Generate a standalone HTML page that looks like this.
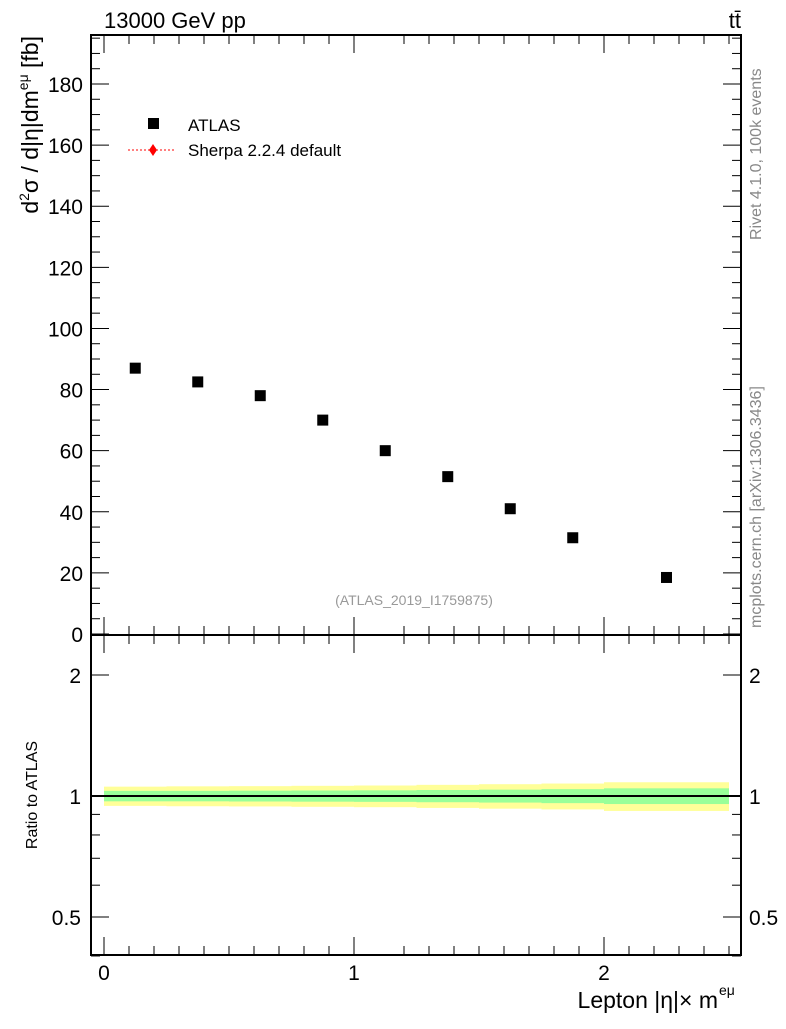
<!DOCTYPE html>
<html><head><meta charset="utf-8"><style>
body{margin:0;background:#fff;}
svg text{font-family:"Liberation Sans",sans-serif;}
</style></head><body>
<svg id="c" width="786" height="1024" xmlns="http://www.w3.org/2000/svg"></svg>
<script>
const binLo=[0,0.25,0.5,0.75,1.0,1.25,1.5,1.75,2.0];
const binHi=[0.25,0.5,0.75,1.0,1.25,1.5,1.75,2.0,2.5];
const atlasValues=[87,82.5,78,70,60,51.5,41,31.5,18.5];
const ratioValues=[1,1,1,1,1,1,1,1,1];
const yellowErr=[0.055,0.057,0.058,0.06,0.062,0.066,0.07,0.074,0.082];
const greenErr=[0.03,0.03,0.031,0.032,0.033,0.035,0.037,0.04,0.045];
const yTicks=[0,20,40,60,80,100,120,140,160,180];
const xTicks=[0,1,2];
const rTicks=[0.5,1,2];

const NS="http://www.w3.org/2000/svg";
const svg=document.getElementById('c');
function el(t,a,p){const e=document.createElementNS(NS,t);for(const k in a)e.setAttribute(k,a[k]);(p||svg).appendChild(e);return e;}
const L=91,R=741,T=35,M=635,B=955;
const X=v=>104+v*250;
const Y=v=>634-v*3.0556;
const RY=v=>796-Math.log10(v)*402;

binLo.forEach((lo,i)=>{
  const y=el('rect',{x:X(lo),y:RY(1+yellowErr[i]),width:X(binHi[i])-X(lo),height:RY(1-yellowErr[i])-RY(1+yellowErr[i]),fill:'#ffff99'});
  
  
  const g=el('rect',{x:X(lo),y:RY(1+greenErr[i]),width:X(binHi[i])-X(lo),height:RY(1-greenErr[i])-RY(1+greenErr[i]),fill:'#99ff99'});
  
  
});
const rl=el('line',{x1:L,x2:R,y1:RY(1),y2:RY(1),stroke:'#000','stroke-width':2});



const f1=el('rect',{x:L,y:T,width:R-L,height:M-T,fill:'none',stroke:'#000','stroke-width':2});


const f2=el('rect',{x:L,y:M,width:R-L,height:B-M,fill:'none',stroke:'#000','stroke-width':2});



for(let v=0;v<=195;v+=5){
  const big=v%20===0, len=big?18:9;
  el('line',{x1:L,x2:L+len,y1:Y(v),y2:Y(v),stroke:'#000','stroke-width':1});
  el('line',{x1:R,x2:R-len,y1:Y(v),y2:Y(v),stroke:'#000','stroke-width':1});
}
yTicks.forEach(v=>{
  const t=el('text',{x:L-8,y:Y(v)+8,'text-anchor':'end','font-size':21});t.textContent=v;
  
  
});
for(let v=-0.05;v<=2.55;v+=0.1){
  const vv=Math.round(v*10)/10; if(vv<-0.05) continue;
  const big=Math.abs(vv-Math.round(vv))<1e-6, len=big?18:9;
  [[T,1],[M,-1],[M,1],[B,-1]].forEach(([y0,d])=>el('line',{x1:X(vv),x2:X(vv),y1:y0,y2:y0+d*len,stroke:'#000','stroke-width':1}));
}
xTicks.forEach(v=>{
  const t=el('text',{x:X(v),y:980,'text-anchor':'middle','font-size':21});t.textContent=v;
  
  
});
[0.4,0.5,0.6,0.7,0.8,0.9,1,2].forEach(v=>{
  const big=rTicks.includes(v),len=big?18:9;
  el('line',{x1:L,x2:L+len,y1:RY(v),y2:RY(v),stroke:'#000'});
  el('line',{x1:R,x2:R-len,y1:RY(v),y2:RY(v),stroke:'#000'});
});
rTicks.forEach(v=>{
  const t=el('text',{x:L-10,y:RY(v)+8,'text-anchor':'end','font-size':21});t.textContent=v;
  
  
  const t2=el('text',{x:R+8,y:RY(v)+8,'text-anchor':'start','font-size':21});t2.textContent=v;
  
  
});
atlasValues.forEach((v,i)=>{
  const cx=X((binLo[i]+binHi[i])/2);
  const p=el('rect',{x:cx-5.5,y:Y(v)-5.5,width:11,height:11,fill:'#000'});
  
  
});
</script>
<svg width="786" height="1024" style="position:absolute;left:0;top:0" xmlns="http://www.w3.org/2000/svg">
<text x="104" y="28" font-size="22">13000 GeV pp</text>
<text x="741" y="28" font-size="22" text-anchor="end">tt̄</text>
<rect x="148" y="118" width="11" height="11" fill="#000"/>
<text x="188" y="131" font-size="17">ATLAS</text>
<line x1="128" x2="176" y1="150" y2="150" stroke="red" stroke-dasharray="2,2"/>
<path d="M153 144 L157 150 L153 156 L149 150Z" fill="red"/>
<text x="188" y="156" font-size="17">Sherpa 2.2.4 default</text>
<text x="414" y="605" font-size="14" fill="#999" text-anchor="middle">(ATLAS_2019_I1759875)</text>
<text transform="translate(38,36) rotate(-90)" font-size="23" text-anchor="end">d<tspan font-size="14" dy="-9">2</tspan><tspan dy="9">σ / d|η|dm</tspan><tspan font-size="14" dy="-10">eμ</tspan><tspan dy="10"> [fb]</tspan></text>
<text transform="translate(37,795) rotate(-90)" font-size="16" text-anchor="middle">Ratio to ATLAS</text>
<text x="718" y="1008" font-size="23" text-anchor="end">Lepton |η|× m</text>
<text x="719" y="995" font-size="14">eμ</text>
<text transform="translate(761,240) rotate(-90)" font-size="16" fill="#888">Rivet 4.1.0,  100k events</text>
<text transform="translate(761,628) rotate(-90)" font-size="16" fill="#888">mcplots.cern.ch [arXiv:1306.3436]</text>
</svg>
</body></html>
